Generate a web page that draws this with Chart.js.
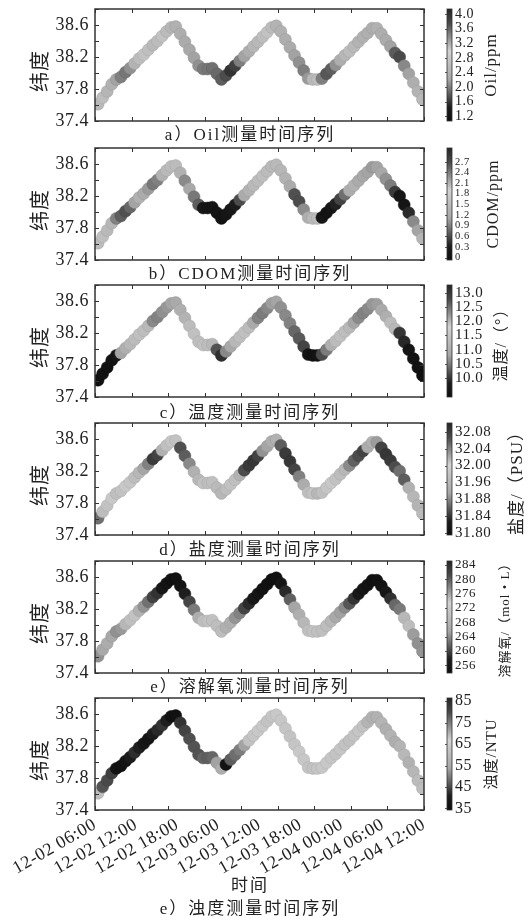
<!DOCTYPE html>
<html>
<head>
<meta charset="utf-8">
<title>纬度测量时间序列</title>
<script src="https://cdn.jsdelivr.net/npm/chart.js@4.4.1/dist/chart.umd.min.js"></script>
<style>
  html, body { margin: 0; padding: 0; background: #fff; }
  body { position: relative; width: 528px; height: 921px; overflow: hidden; }
  canvas { position: absolute; left: 0; }
  .cap { position: absolute; left: 0; width: 500px; text-align: center; line-height: 20px; font-size: 17px;
         font-family: "Liberation Serif", "Noto Sans CJK SC", serif; letter-spacing: 2px; color: #222; }
</style>
</head>
<body>
<script>
const FONT = '"Liberation Serif", "Noto Sans CJK SC", serif';
Chart.defaults.font.family = FONT;
Chart.defaults.color = '#222';

// sample times, hours after 12-02 06:00
const times = [0.5, 1.25, 2, 2.75, 3.5, 4.25, 5, 5.75, 6.5, 7.25, 8, 8.75, 9.5, 10.25, 11, 11.75, 12.5, 13.25,
  14, 14.75, 15.5, 16.25, 17, 17.75, 18.5, 19.25, 20, 20.75, 21.5, 22.25, 23, 23.75, 24.5, 25.25, 26, 26.75,
  27.5, 28.25, 29, 29.75, 30.5, 31.25, 32, 32.75, 33.5, 34.25, 35, 35.75, 36.5, 37.25, 38, 38.75, 39.5, 40.25,
  41, 41.75, 42.5, 43.25, 44, 44.75, 45.5, 46.25, 47, 47.75, 48.5, 49.25, 50, 50.75, 51.5, 52.25, 53, 53.75];

const lat = [37.61, 37.69, 37.77, 37.86, 37.92, 37.95, 38.01, 38.06, 38.12, 38.18, 38.23, 38.29, 38.35, 38.40,
  38.46, 38.52, 38.57, 38.58, 38.49, 38.39, 38.29, 38.19, 38.09, 38.05, 38.05, 38.06, 37.99, 37.92, 37.97, 38.03,
  38.09, 38.15, 38.21, 38.27, 38.33, 38.39, 38.45, 38.51, 38.57, 38.59, 38.52, 38.42, 38.32, 38.22, 38.13, 38.03,
  37.93, 37.92, 37.92, 37.93, 37.99, 38.05, 38.10, 38.16, 38.22, 38.27, 38.33, 38.39, 38.45, 38.50, 38.56, 38.56,
  38.49, 38.41, 38.33, 38.25, 38.20, 38.09, 37.99, 37.88, 37.77, 37.67];

const oil = [2.55, 2.62, 2.48, 2.40, 2.20, 2.00, 1.95, 2.10, 2.45, 2.60, 2.70, 2.65, 2.55, 2.60, 2.70, 2.58, 2.50,
  2.40, 2.35, 2.30, 2.25, 2.20, 2.10, 1.98, 1.95, 1.92, 1.88, 1.82, 1.72, 1.58, 1.65, 2.00, 2.20, 2.35, 2.50, 2.55,
  2.62, 2.70, 2.60, 2.45, 2.40, 2.35, 2.30, 2.20, 2.10, 2.00, 2.15, 2.55, 2.60, 2.00, 1.78, 1.82, 2.10, 2.35, 2.50,
  2.60, 2.55, 2.45, 2.40, 2.38, 2.35, 2.40, 2.35, 2.30, 2.20, 1.80, 1.70, 2.05, 2.20, 2.35, 2.45, 2.55];

const cdom = [1.50, 1.55, 1.45, 1.40, 0.90, 0.70, 0.62, 0.75, 1.10, 1.30, 1.20, 1.05, 0.85, 0.90, 1.30, 1.45, 1.50,
  1.50, 1.30, 0.95, 1.15, 0.85, 0.70, 0.20, 0.15, 0.10, 0.08, 0.05, 0.10, 0.20, 0.30, 0.60, 1.20, 1.35, 1.45, 1.50,
  1.55, 1.50, 1.45, 1.45, 1.40, 1.35, 1.20, 0.62, 0.60, 0.97, 1.25, 1.45, 1.50, 0.15, 0.05, 0.10, 0.35, 0.55, 0.80,
  1.25, 1.30, 1.20, 1.15, 1.10, 1.05, 1.10, 1.15, 1.00, 0.88, 0.50, 0.15, 0.10, 0.40, 0.95, 1.10, 1.40];

const temp = [9.35, 9.40, 9.38, 9.45, 9.60, 10.80, 11.00, 11.20, 11.30, 11.40, 11.35, 11.20, 10.60, 10.55, 10.65,
  10.70, 10.80, 10.90, 11.00, 11.10, 11.30, 11.40, 11.35, 11.40, 11.30, 11.20, 10.20, 9.95, 10.60, 10.85, 11.20,
  11.35, 11.40, 11.30, 10.90, 10.55, 10.50, 10.60, 10.75, 10.80, 10.65, 10.60, 10.55, 10.35, 10.25, 10.10, 9.50,
  9.40, 9.45, 10.15, 10.50, 11.00, 11.30, 11.40, 11.35, 11.20, 10.80, 10.60, 10.55, 10.60, 10.70, 10.75, 10.90,
  11.00, 11.30, 11.20, 10.00, 9.90, 9.55, 9.45, 9.40, 9.35];

const sal = [31.880, 31.950, 31.960, 31.970, 31.955, 31.960, 31.970, 31.965, 31.950, 31.940, 31.910, 31.890, 31.850,
  31.855, 31.930, 31.955, 31.965, 31.960, 31.862, 31.870, 31.895, 31.930, 31.940, 31.960, 31.950, 31.955, 31.945,
  31.940, 31.950, 31.960, 31.955, 31.930, 31.860, 31.850, 31.848, 31.855, 31.900, 31.910, 31.925, 31.930, 31.870,
  31.850, 31.848, 31.855, 31.890, 31.920, 31.950, 31.960, 31.940, 31.955, 31.965, 31.970, 31.960, 31.950, 31.940,
  31.895, 31.872, 31.860, 31.855, 31.920, 31.930, 31.905, 31.855, 31.848, 31.850, 31.860, 31.880, 31.870, 31.930,
  31.940, 31.935, 31.945];

const dox = [264.3, 266.0, 266.5, 265.8, 264.3, 264.8, 268.5, 270.0, 270.5, 267.5, 264.5, 262.5, 259.8, 259.0, 256.0,
  255.2, 254.5, 254.3, 255.0, 257.8, 260.0, 263.0, 267.0, 270.0, 270.5, 270.2, 269.8, 269.5, 267.5, 266.8, 264.5,
  263.5, 260.0, 258.5, 256.5, 255.5, 254.8, 254.3, 254.2, 254.5, 255.5, 258.5, 261.5, 265.5, 267.0, 268.5, 270.0,
  270.5, 270.3, 270.0, 269.5, 268.5, 266.0, 265.2, 264.0, 261.0, 259.0, 256.5, 255.5, 254.8, 254.3, 254.3, 254.8,
  256.0, 258.8, 262.0, 263.0, 268.5, 269.5, 265.0, 264.3, 264.5];

const turb = [61.0, 46.0, 45.0, 44.0, 36.0, 35.5, 36.5, 40.0, 42.5, 41.0, 37.5, 36.5, 40.0, 42.0, 43.0, 41.0, 36.0,
  35.5, 43.0, 44.5, 45.5, 46.0, 46.0, 47.5, 47.0, 47.8, 53.5, 56.0, 36.0, 47.0, 48.5, 50.0, 53.5, 62.0, 63.0, 64.0,
  63.5, 62.5, 63.0, 64.0, 63.5, 63.0, 62.5, 63.0, 64.0, 63.5, 62.5, 62.0, 63.0, 63.5, 64.0, 63.0, 62.5, 63.0, 62.0,
  61.5, 62.5, 63.0, 62.0, 58.0, 57.0, 57.0, 58.0, 56.5, 57.5, 56.0, 58.0, 59.0, 57.0, 58.5, 60.0, 61.0];

const timeLabels = ['12-02 06:00', '12-02 12:00', '12-02 18:00', '12-03 06:00', '12-03 12:00',
  '12-03 18:00', '12-04 00:00', '12-04 06:00', '12-04 12:00'];
const hourTicks = [0, 6, 12, 18, 24, 30, 36, 42, 48, 54];
const latLabels = [37.4, 37.8, 38.2, 38.6];
const latMinor = [37.4, 37.6, 37.8, 38.0, 38.2, 38.4, 38.6, 38.8];

const oilTicks = ['1.2', '1.6', '2.0', '2.4', '2.8', '3.2', '3.6', '4.0'];
const cdomTicks = ['0', '0.3', '0.6', '0.9', '1.2', '1.5', '1.8', '2.1', '2.4', '2.7'];
const tempTicks = ['10.0', '10.5', '11.0', '11.5', '12.0', '12.5', '13.0'];
const salTicks = ['31.80', '31.84', '31.88', '31.96', '32.00', '32.04', '32.08'];
const doxTicks = ['256', '260', '264', '268', '272', '276', '280', '284'];
const turbTicks = ['35', '45', '55', '65', '75', '85'];

const captions = ['a）Oil测量时间序列', 'b）CDOM测量时间序列', 'c）温度测量时间序列',
  'd）盐度测量时间序列', 'e）溶解氧测量时间序列', 'e）浊度测量时间序列'];

// layout
const frameTops = [9, 148, 285, 423, 561, 698];
const plotH = 112;
const capY = [135, 274, 413, 550, 687, 909];

const panels = [
  { vals: oil, cbTicks: oilTicks, cbMin: 1.07, cbMax: 4.14, cbTitle: 'Oil/ppm', titleX: 492, titleSize: 17, tickSize: 14 },
  { vals: cdom, cbTicks: cdomTicks, cbMin: -0.07, cbMax: 3.09, cbTitle: 'CDOM/ppm', titleX: 494, titleSize: 16, tickSize: 10.5 },
  { vals: temp, cbTicks: tempTicks, cbMin: 9.32, cbMax: 13.29, cbTitle: '温度/（°）', titleX: 502, titleSize: 16, tickSize: 15 },
  { vals: sal, cbTicks: salTicks, cbMin: 31.795, cbMax: 32.104, cbTitle: '盐度/（PSU）', titleX: 518, titleSize: 17, tickSize: 15 },
  { vals: dox, cbTicks: doxTicks, cbMin: 253.8, cbMax: 285.1, cbTitle: '溶解氧/（mol • L）', titleX: 506, titleSize: 13, tickSize: 13 },
  { vals: turb, cbTicks: turbTicks, cbMin: 34.3, cbMax: 86.5, cbTitle: '浊度/NTU', titleX: 492, titleSize: 15, tickSize: 16 }
];

// jet colormap printed in grey
function jetGray(t) {
  t = Math.min(1, Math.max(0, t));
  const c = k => Math.min(1, Math.max(0, 1.5 - Math.abs(4 * t - k)));
  const L = 0.299 * c(3) + 0.587 * c(2) + 0.114 * c(1);
  return Math.round(15 + (L - 0.057) / 0.829 * 195);
}
const grey = g => `rgb(${g},${g},${g})`;

// fixed axis boxes, no label overhang padding
const fixBox = (w, hgt) => sc => {
  if (w !== null) sc.width = w;
  if (hgt !== null) sc.height = hgt;
  sc.paddingTop = 0; sc.paddingBottom = 0; sc.paddingLeft = 0; sc.paddingRight = 0;
};

function framePlugin(p, cbPos) {
  return {
    id: 'frame',
    beforeDraw(chart) { chart.ctx.letterSpacing = '0.5px'; },
    afterDraw(chart) {
      const { ctx, chartArea: a, scales: s } = chart;
      ctx.save();
      ctx.strokeStyle = '#333';
      ctx.lineWidth = 1;
      ctx.beginPath();
      hourTicks.forEach(hh => {
        const x = Math.round(s.x.getPixelForValue(hh)) + 0.5;
        ctx.moveTo(x, a.top); ctx.lineTo(x, a.top + 4);
        ctx.moveTo(x, a.bottom); ctx.lineTo(x, a.bottom - 4);
      });
      latMinor.forEach(v => {
        const y = Math.round(s.y.getPixelForValue(v)) + 0.5;
        ctx.moveTo(a.left, y); ctx.lineTo(a.left + 4, y);
        ctx.moveTo(a.right, y); ctx.lineTo(a.right - 4, y);
      });
      ctx.stroke();
      ctx.lineWidth = 1.5;
      ctx.strokeRect(a.left, a.top, a.right - a.left, a.bottom - a.top);

      // colour bar
      const bx = a.right + 23, bw = 5;
      for (let py = Math.floor(a.top); py < a.bottom; py++) {
        const v = s.cb.getValueForPixel(py + 0.5);
        ctx.fillStyle = grey(jetGray((v - p.cbMin) / (p.cbMax - p.cbMin)));
        ctx.fillRect(bx, py, bw, 1);
      }
      ctx.lineWidth = 0.8;
      ctx.strokeRect(bx, a.top, bw, a.bottom - a.top);
      ctx.beginPath();
      cbPos.forEach(v => {
        const y = Math.round(s.cb.getPixelForValue(v)) + 0.5;
        ctx.moveTo(bx - 2, y); ctx.lineTo(bx, y);
      });
      ctx.stroke();

      // rotated titles
      const mid = (a.top + a.bottom) / 2;
      ctx.fillStyle = '#222';
      ctx.textAlign = 'center';
      ctx.textBaseline = 'middle';
      ctx.letterSpacing = '1px';
      ctx.save();
      ctx.translate(42, mid + 6);
      ctx.rotate(-Math.PI / 2);
      ctx.font = '20px ' + FONT;
      ctx.fillText('纬度', 0, 0);
      ctx.restore();
      ctx.save();
      ctx.translate(p.titleX, mid);
      ctx.rotate(-Math.PI / 2);
      ctx.font = p.titleSize + 'px ' + FONT;
      ctx.fillText(p.cbTitle, 0, 0);
      ctx.restore();
      ctx.restore();
    }
  };
}

function makePanel(i) {
  const p = panels[i];
  const last = i === panels.length - 1;
  const top = frameTops[i] - 8;
  const h = last ? 921 - top : frameTops[i + 1] - frameTops[i];
  const cv = document.createElement('canvas');
  cv.width = 528;
  cv.height = h;
  cv.style.top = top + 'px';
  document.body.appendChild(cv);

  const lo = parseFloat(p.cbTicks[0]);
  const hi = parseFloat(p.cbTicks[p.cbTicks.length - 1]);
  const cbPos = p.cbTicks.map((_, k) => lo + k * (hi - lo) / (p.cbTicks.length - 1));
  const shade = v => jetGray((v - p.cbMin) / (p.cbMax - p.cbMin));

  new Chart(cv, {
    type: 'scatter',
    data: {
      datasets: [{
        data: times.map((t, k) => ({ x: t, y: lat[k], v: p.vals[k] })),
        pointRadius: 6,
        pointBackgroundColor: c => c.raw ? grey(shade(c.raw.v)) : '#999',
        pointBorderColor: c => c.raw ? grey(Math.round(shade(c.raw.v) * 0.88)) : '#888',
        pointBorderWidth: 0.5,
        clip: 0
      }]
    },
    options: {
      responsive: false,
      animation: false,
      devicePixelRatio: 1,
      events: [],
      layout: { padding: { top: 8, left: 0, right: 0, bottom: 0 } },
      plugins: { legend: { display: false }, tooltip: { enabled: false } },
      scales: {
        x: {
          type: 'linear', position: 'bottom', min: 0, max: 54,
          grid: { display: false, drawTicks: false }, border: { display: false },
          ticks: {
            display: last, autoSkip: false, minRotation: 30, maxRotation: 30, padding: 4,
            font: { size: 18 }, callback: (v, k) => timeLabels[k]
          },
          afterBuildTicks: sc => { sc.ticks = timeLabels.map((_, k) => ({ value: k * 54 / (timeLabels.length - 1) })); },
          afterFit: fixBox(null, h - 8 - plotH)
        },
        y: {
          type: 'linear', position: 'left', min: 37.4, max: 38.8,
          grid: { display: false, drawTicks: false }, border: { display: false },
          ticks: { autoSkip: false, padding: 6, font: { size: 18 }, callback: v => v.toFixed(1) },
          afterBuildTicks: sc => { sc.ticks = latLabels.map(v => ({ value: v })); },
          afterFit: fixBox(95, null)
        },
        cb: {
          type: 'linear', position: 'right', display: true, min: p.cbMin, max: p.cbMax,
          grid: { display: false, drawTicks: false }, border: { display: false },
          ticks: { autoSkip: false, padding: 31, font: { size: p.tickSize }, callback: (v, k) => p.cbTicks[k] },
          afterBuildTicks: sc => { sc.ticks = cbPos.map(v => ({ value: v })); },
          afterFit: fixBox(104, null)
        }
      }
    },
    plugins: [framePlugin(p, cbPos)]
  });
}

panels.forEach((_, i) => makePanel(i));

function addText(text, cy) {
  const d = document.createElement('div');
  d.className = 'cap';
  d.style.top = (cy - 10) + 'px';
  d.textContent = text;
  document.body.appendChild(d);
}
captions.forEach((c, i) => addText(c, capY[i]));
addText('时间', 886);
</script>
</body>
</html>
